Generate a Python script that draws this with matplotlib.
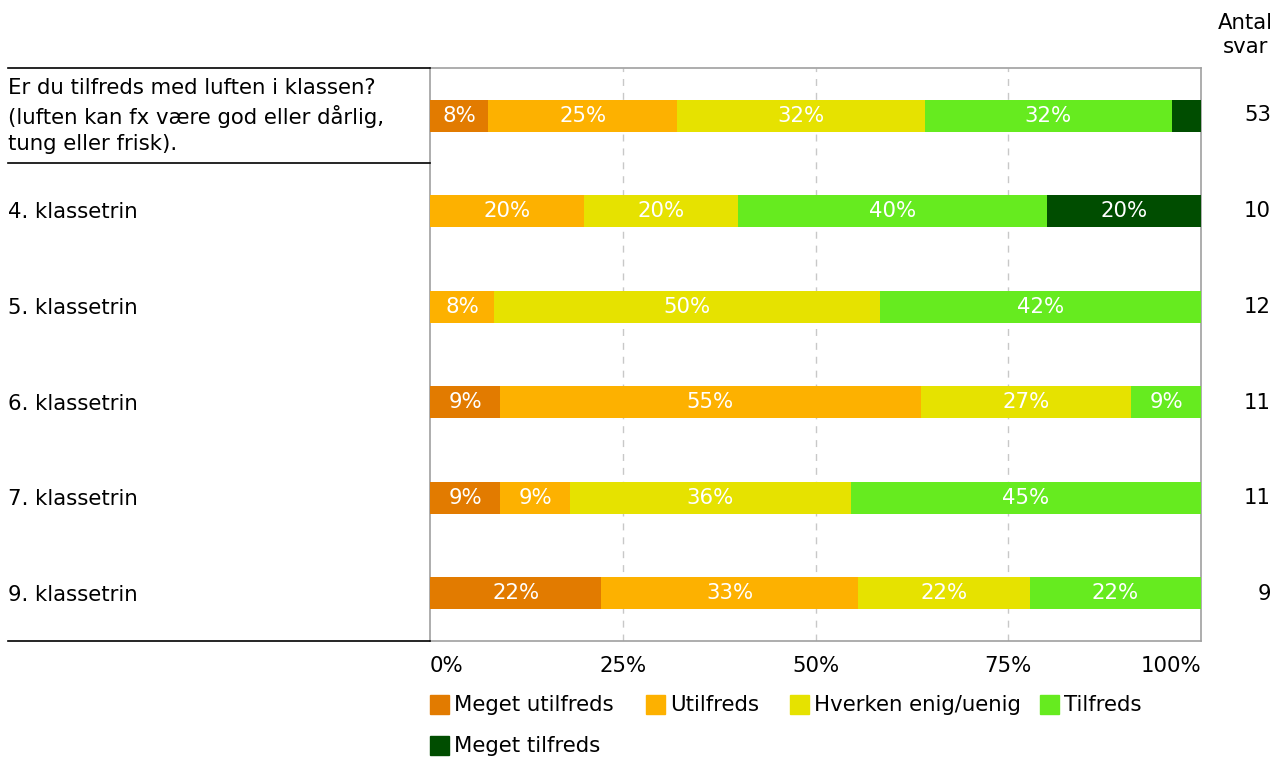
import matplotlib
matplotlib.use("Agg")
import matplotlib.pyplot as plt
from matplotlib.lines import Line2D
from matplotlib.patches import Rectangle

categories = ["Er du tilfreds med luften i klassen?\n(luften kan fx være god eller dårlig,\ntung eller frisk).",
              "4. klassetrin", "5. klassetrin", "6. klassetrin", "7. klassetrin", "9. klassetrin"]
series_names = ["Meget utilfreds", "Utilfreds", "Hverken enig/uenig", "Tilfreds", "Meget tilfreds"]
counts = [53, 10, 12, 11, 11, 9]
meget_utilfreds = [7.55, 0, 0, 9.09, 9.09, 22.22]
utilfreds = [24.53, 20, 8.33, 54.55, 9.09, 33.33]
hverken = [32.08, 20, 50, 27.27, 36.36, 22.22]
tilfreds = [32.08, 40, 41.67, 9.09, 45.45, 22.22]
meget_tilfreds = [3.77, 20, 0, 0, 0, 0]
tick_labels = ["0%", "25%", "50%", "75%", "100%"]
colors = ["#E27B00", "#FDB100", "#E6E200", "#66EB1F", "#004D00"]

series = [meget_utilfreds, utilfreds, hverken, tilfreds, meget_tilfreds]

W, H = 1276, 758
fig = plt.figure(figsize=(W / 100, H / 100), dpi=100)
plt.rcParams['font.family'] = ['DejaVu Sans']
FS = 15.3

ax = fig.add_axes([430 / W, 1 - 641 / H, (1201 - 430) / W, (641 - 68) / H])
n = len(categories)
ys = list(range(n))
left = [0.0] * n
for vals, col in zip(series, colors):
    ax.barh(ys, vals, left=left, height=0.34, color=col, edgecolor='none', zorder=3)
    for i, v in enumerate(vals):
        if v >= 5:
            ax.text(left[i] + v / 2, i, f"{int(v + 0.5):d}%", ha='center', va='center',
                    color='white', fontsize=FS, zorder=4)
    left = [l + v for l, v in zip(left, vals)]

ax.set_xlim(0, 100)
ax.set_ylim(n - 0.5, -0.5)
ax.set_yticks([])
ax.set_xticks([0, 25, 50, 75, 100])
ax.set_xticklabels(tick_labels, fontsize=FS)
ax.tick_params(axis='x', length=0, pad=11)
tls = ax.get_xticklabels()
tls[0].set_ha('left')
tls[-1].set_ha('right')
for x in [25, 50, 75]:
    ax.axvline(x, color='#c8c8c8', linestyle=(0, (5, 5)), linewidth=1, zorder=1)
for s in ax.spines.values():
    s.set_color('#a0a0a0')
    s.set_linewidth(1.2)

# left labels
ycent = [115, 211, 307, 403, 498, 594]
for lab, yc in zip(categories, ycent):
    fig.text(8 / W, 1 - (yc + 1) / H, lab, ha='left', va='center', fontsize=FS, linespacing=1.35)
for yl in [68, 163, 641]:
    fig.add_artist(Line2D([8 / W, 430 / W], [1 - yl / H, 1 - yl / H], color='black', linewidth=1.2))

# counts
fig.text(1245 / W, 1 - 35 / H, "Antal\nsvar", ha='center', va='center', fontsize=FS, linespacing=1.27)
for c, yc in zip(counts, ycent):
    fig.text(1271 / W, 1 - yc / H, str(c), ha='right', va='center', fontsize=FS)

# legend
leg_pos = [(430, 705), (646, 705), (790, 705), (1040, 705), (430, 746)]
for (lx, ly), name, col in zip(leg_pos, series_names, colors):
    fig.add_artist(Rectangle((lx / W, 1 - (ly + 9) / H), 19 / W, 19 / H, color=col,
                             transform=fig.transFigure))
    fig.text((lx + 24) / W, 1 - ly / H, name, ha='left', va='center', fontsize=FS)

fig.savefig("out.png", dpi=100)
